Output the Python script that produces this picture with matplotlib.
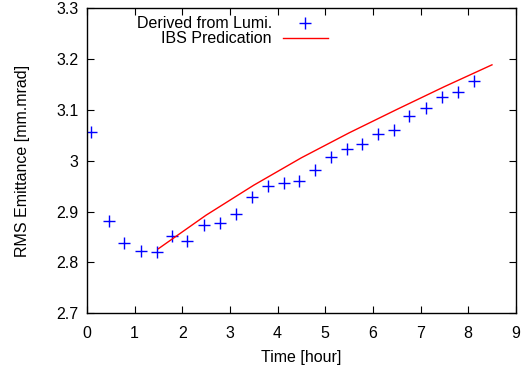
import matplotlib.pyplot as plt
import numpy as np

plt.rcParams['font.family'] = ['Liberation Sans', 'DejaVu Sans']

# emittance derived from luminosity
t_lumi = [0.08, 0.46, 0.78, 1.13, 1.47, 1.79, 2.10, 2.46, 2.79, 3.13, 3.47, 3.80,
          4.14, 4.45, 4.79, 5.13, 5.46, 5.78, 6.11, 6.45, 6.76, 7.12, 7.46, 7.79, 8.13]
emit_lumi = [3.056, 2.882, 2.839, 2.822, 2.820, 2.851, 2.843, 2.873, 2.878, 2.896,
             2.929, 2.951, 2.957, 2.961, 2.982, 3.008, 3.024, 3.033, 3.053, 3.061,
             3.088, 3.104, 3.125, 3.135, 3.157]

# IBS prediction
t_ibs = [1.5, 2.5, 3.5, 4.5, 5.5, 6.5, 7.5, 8.5]
emit_ibs = [2.827, 2.893, 2.952, 3.006, 3.055, 3.101, 3.146, 3.189]

fig = plt.figure(figsize=(5.21, 3.68), dpi=100)
ax = fig.add_axes([0.167, 0.149, 0.823, 0.828])

ax.plot(t_lumi, emit_lumi, '+', color='blue', markersize=9, markeredgewidth=1.0,
        label='Derived from Lumi.')
ax.plot(t_ibs, emit_ibs, '-', color='red', linewidth=1.0, label='IBS Predication')

ax.set_xlim(0, 9)
ax.set_ylim(2.7, 3.3)
ax.set_xticks(np.arange(0, 10, 1))
ax.set_yticks([2.7, 2.8, 2.9, 3.0, 3.1, 3.2, 3.3])
ax.set_yticklabels(['2.7', '2.8', '2.9', '3', '3.1', '3.2', '3.3'])
ax.tick_params(direction='in', top=True, right=True, length=5, labelsize=11.5, pad=6)
ax.tick_params(axis='x', pad=9)
for s in ax.spines.values():
    s.set_linewidth(1.0)

ax.set_xlabel('Time [hour]', fontsize=11.5, labelpad=7)
ax.set_ylabel('RMS Emittance [mm.mrad]', fontsize=11.5, labelpad=19)

ax.legend(loc='upper right', bbox_to_anchor=(0.584, 1.006), frameon=False, fontsize=11.5,
          markerfirst=False, handlelength=2.8, borderpad=0.1, labelspacing=0.0,
          handletextpad=0.7)

plt.savefig('out.png', dpi=100)
